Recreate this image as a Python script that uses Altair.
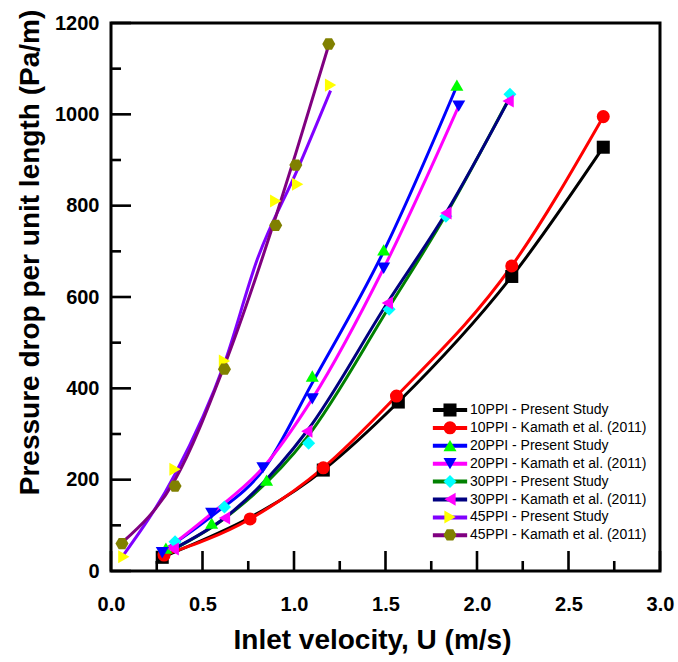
import altair as alt
import pandas as pd

FONT = "Liberation Sans"
W, H = 549, 548

SERIES = [
    "10PPI - Present Study",
    "10PPI - Kamath et al. (2011)",
    "20PPI - Present Study",
    "20PPI - Kamath et al. (2011)",
    "30PPI - Present Study",
    "30PPI - Kamath et al. (2011)",
    "45PPI - Present Study",
    "45PPI - Kamath et al. (2011)",
]
LINE_COLORS = ["#000000", "#FF0000", "#0000FF", "#FF00FF",
               "#008000", "#000080", "#8000FF", "#800080"]
MARKER_COLORS = ["#000000", "#FF0000", "#00FF00", "#0000FF",
                 "#00FFFF", "#FF00FF", "#FFFF00", "#808000"]
HEXAGON = "M-1,0L-0.5,-0.866L0.5,-0.866L1,0L0.5,0.866L-0.5,0.866Z"
MARKER_SHAPES = ["square", "circle", "triangle-up", "triangle-down",
                 "diamond", "triangle-left", "triangle-right", HEXAGON]
# legend swatch: a horizontal line segment wider than the symbol box
SWATCH_LINE = "M-2.8,0L2.8,0"

# Inlet velocity (m/s) and pressure drop per unit length (Pa/m)
u_10_present = [0.28, 1.16, 1.57, 2.19, 2.69]
dp_10_present = [30, 221, 370, 645, 928]
u_10_kamath = [0.29, 0.76, 1.16, 1.56, 2.19, 2.69]
dp_10_kamath = [35, 114, 226, 383, 668, 995]
u_20_present = [0.30, 0.55, 0.85, 1.10, 1.49, 1.89]
dp_20_present = [50, 105, 199, 427, 703, 1064]
u_20_kamath = [0.28, 0.55, 0.83, 1.10, 1.49, 1.90]
dp_20_kamath = [40, 126, 226, 377, 663, 1018]
u_30_present = [0.35, 0.62, 1.08, 1.52, 1.83, 2.18]
dp_30_present = [64, 140, 280, 573, 777, 1044]
u_30_kamath = [0.34, 0.62, 1.07, 1.51, 1.83, 2.17]
dp_30_kamath = [48, 116, 306, 587, 784, 1029]
u_45_present = [0.07, 0.35, 0.62, 0.90, 1.02, 1.20]
dp_45_present = [31, 223, 460, 810, 847, 1064]
u_45_kamath = [0.06, 0.35, 0.62, 0.90, 1.01, 1.19]
dp_45_kamath = [60, 186, 442, 757, 889, 1154]

# Fitted trend curves where they depart from the symbols
fit_u_20_present = [0.30, 0.55, 0.84, 1.10, 1.49, 1.89]
fit_dp_20_present = [48, 120, 226, 412, 700, 1062]
fit_u_30_present = [0.33, 0.62, 1.07, 1.52, 1.83, 2.18]
fit_dp_30_present = [45, 115, 292, 578, 780, 1038]
fit_u_45_present = [0.07, 0.35, 0.62, 0.80, 1.02, 1.20]
fit_dp_45_present = [36, 212, 455, 683, 880, 1052]
fit_u_45_kamath = [0.06, 0.35, 0.62, 0.90, 1.01, 1.19]
fit_dp_45_kamath = [62, 200, 450, 775, 915, 1152]

# Axis ticks
x_major = [0.0, 0.5, 1.0, 1.5, 2.0, 2.5, 3.0]
x_minor = [0.25, 0.75, 1.25, 1.75, 2.25, 2.75]
y_major = [0, 200, 400, 600, 800, 1000, 1200]
y_minor = [100, 300, 500, 700, 900, 1100]

symbols = [
    (u_10_present, dp_10_present), (u_10_kamath, dp_10_kamath),
    (u_20_present, dp_20_present), (u_20_kamath, dp_20_kamath),
    (u_30_present, dp_30_present), (u_30_kamath, dp_30_kamath),
    (u_45_present, dp_45_present), (u_45_kamath, dp_45_kamath),
]
curves = [
    (u_10_present, dp_10_present), (u_10_kamath, dp_10_kamath),
    (fit_u_20_present, fit_dp_20_present), (u_20_kamath, dp_20_kamath),
    (fit_u_30_present, fit_dp_30_present), (u_30_kamath, dp_30_kamath),
    (fit_u_45_present, fit_dp_45_present), (fit_u_45_kamath, fit_dp_45_kamath),
]


def long_table(pairs):
    rows = []
    for name, (us, dps) in zip(SERIES, pairs):
        for u, dp in zip(us, dps):
            rows.append({"series": name, "u": u, "dp": dp})
    return pd.DataFrame(rows)


pts = long_table(symbols)
fits = long_table(curves)

x_scale = alt.Scale(domain=[0, 3], nice=False, zero=False)
y_scale = alt.Scale(domain=[0, 1200], nice=False)

x_axis = alt.Axis(
    values=x_major, format=".1f", ticks=False, domain=False, grid=False,
    labelFont=FONT, labelFontWeight="bold", labelFontSize=20, labelColor="black",
    labelPadding=23, labelFlush=False,
    title="Inlet velocity, U (m/s)", titleFont=FONT, titleFontWeight="bold",
    titleFontSize=28, titleColor="black", titleX=261, titleY=77,
    titleAlign="center", titleBaseline="alphabetic",
)
y_axis = alt.Axis(
    values=y_major, format="d", ticks=False, domain=False, grid=False,
    labelFont=FONT, labelFontWeight="bold", labelFontSize=20, labelColor="black",
    labelPadding=12, labelFlush=False,
    title="Pressure drop per unit length (Pa/m)", titleFont=FONT,
    titleFontWeight="bold", titleFontSize=28, titleColor="black",
    titleX=-81, titleY=229, titleAngle=270, titleAlign="center",
    titleBaseline="middle",
)

X = alt.X("u:Q", scale=x_scale, axis=x_axis)
Y = alt.Y("dp:Q", scale=y_scale, axis=y_axis)

# Two legends stacked at the same spot: line swatches with labels, and the
# marker symbols drawn on top of them (no labels of their own).
legend_common = dict(
    title=None, orient="none",
    labelFont=FONT, labelFontSize=14, labelColor="black",
    labelLimit=300, padding=0, symbolOffset=0,
)
line_legend = alt.Legend(
    legendX=330.5, legendY=378.5, symbolType=SWATCH_LINE, symbolSize=150,
    symbolStrokeWidth=4, symbolFillColor="transparent",
    labelOffset=11.5, rowPadding=0.9, zindex=1,
    **legend_common,
)
marker_legend = alt.Legend(
    legendX=332, legendY=380, symbolSize=170, symbolStrokeWidth=0, symbolOpacity=1,
    labelExpr="''", labelOffset=3, rowPadding=3.85, zindex=2,
    **legend_common,
)

lines = alt.Chart(fits).mark_line(strokeWidth=3, interpolate="monotone").encode(
    x=X, y=Y,
    stroke=alt.Stroke("series:N", scale=alt.Scale(domain=SERIES, range=LINE_COLORS),
                      legend=line_legend),
    order="u:Q",
)

markers = alt.Chart(pts).mark_point(filled=True, size=170, opacity=1, strokeWidth=0).encode(
    x=X, y=Y,
    fill=alt.Fill("series:N", scale=alt.Scale(domain=SERIES, range=MARKER_COLORS),
                  legend=marker_legend),
    shape=alt.Shape("series:N", scale=alt.Scale(domain=SERIES, range=MARKER_SHAPES),
                    legend=marker_legend),
)

# Inward-pointing ticks along the bottom and left edges
tick_style = dict(color="black", strokeWidth=2.6)
xt_major = alt.Chart(pd.DataFrame({"u": x_major})).mark_rule(**tick_style).encode(
    x=X, y=alt.value(H), y2=alt.value(H - 20))
xt_minor = alt.Chart(pd.DataFrame({"u": x_minor})).mark_rule(**tick_style).encode(
    x=X, y=alt.value(H), y2=alt.value(H - 10))
yt_major = alt.Chart(pd.DataFrame({"dp": y_major})).mark_rule(**tick_style).encode(
    y=Y, x=alt.value(0), x2=alt.value(20))
yt_minor = alt.Chart(pd.DataFrame({"dp": y_minor})).mark_rule(**tick_style).encode(
    y=Y, x=alt.value(0), x2=alt.value(10))

chart = (
    alt.layer(xt_major, xt_minor, yt_major, yt_minor, lines, markers)
    .resolve_legend(stroke="independent", fill="independent", shape="independent")
    .properties(
        width=W, height=H,
        autosize=alt.AutoSizeParams(type="none"),
        padding={"left": 111, "top": 23, "right": 18, "bottom": 91},
        background="white",
    )
    .configure_view(stroke="black", strokeWidth=3)
)

chart.save("out.html", embed_options={"renderer": "svg", "actions": False})
